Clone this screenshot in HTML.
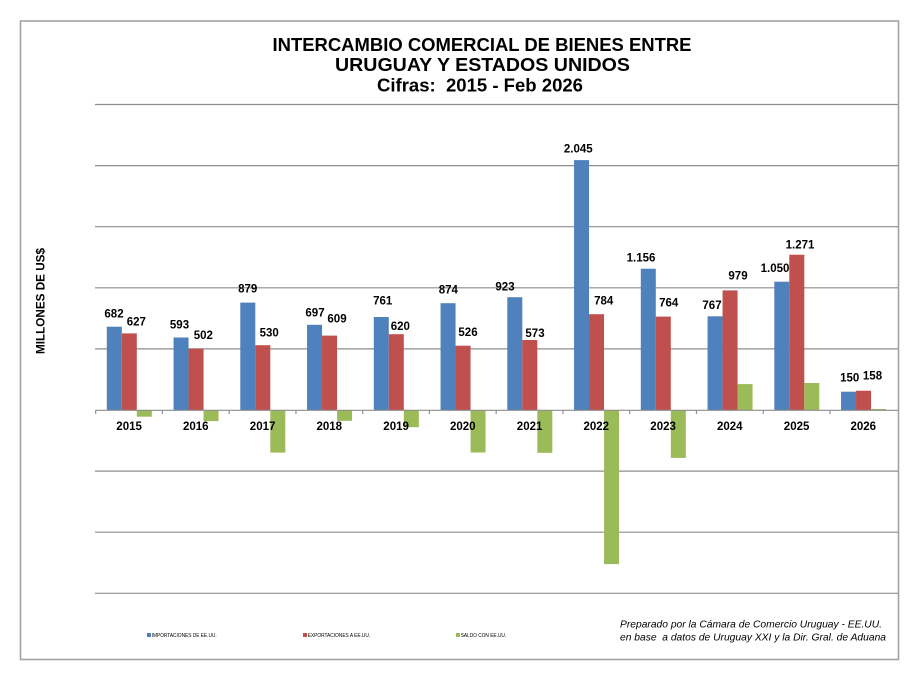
<!DOCTYPE html>
<html>
<head>
<meta charset="utf-8">
<style>
  html,body{margin:0;padding:0;background:#fff;}
  body{width:919px;height:677px;overflow:hidden;}
  svg{display:block;}
  .t{font-family:"Liberation Sans",Arial,sans-serif;font-weight:bold;fill:#000;}
  .dl{font-family:"Liberation Sans",Arial,sans-serif;font-weight:bold;font-size:11.5px;fill:#000;text-anchor:middle;}
  .cr{font-family:"Liberation Sans",Arial,sans-serif;font-style:italic;font-size:10px;fill:#000;}
  .lg{font-family:"Liberation Sans",Arial,sans-serif;font-size:5.5px;fill:#000;}
</style>
</head>
<body>
<svg width="919" height="677" viewBox="0 0 919 677" xmlns="http://www.w3.org/2000/svg">
  <rect x="0" y="0" width="919" height="677" fill="#fff"/>
  <!-- chart border -->
  <rect x="20.5" y="21" width="878" height="638.5" fill="#fff" stroke="#a3a3a3" stroke-width="1.6"/>

  <!-- Title -->
  <text class="t" x="482" y="51" font-size="18" text-anchor="middle" textLength="419" lengthAdjust="spacingAndGlyphs">INTERCAMBIO COMERCIAL DE BIENES ENTRE</text>
  <text class="t" x="482.5" y="71" font-size="18" text-anchor="middle" textLength="295" lengthAdjust="spacingAndGlyphs">URUGUAY Y ESTADOS UNIDOS</text>
  <text class="t" x="480" y="91.7" font-size="18" text-anchor="middle" textLength="206" lengthAdjust="spacingAndGlyphs" xml:space="preserve">Cifras:  2015 - Feb 2026</text>

  <!-- gridlines -->
  <g stroke="#8e8e8e" stroke-width="1.2">
    <line x1="95" y1="104.5" x2="898" y2="104.5"/>
    <line x1="95" y1="165.6" x2="898" y2="165.6"/>
    <line x1="95" y1="226.7" x2="898" y2="226.7"/>
    <line x1="95" y1="287.8" x2="898" y2="287.8"/>
    <line x1="95" y1="348.9" x2="898" y2="348.9"/>
    <line x1="95" y1="471.1" x2="898" y2="471.1"/>
    <line x1="95" y1="532.2" x2="898" y2="532.2"/>
    <line x1="95" y1="593.3" x2="898" y2="593.3"/>
  </g>

  <!-- Y axis title -->
  <text class="t" font-size="11.5" text-anchor="middle" transform="translate(44.5,301) rotate(-90)" textLength="106" lengthAdjust="spacingAndGlyphs">MILLONES DE US$</text>

  <!-- Imports (blue) -->
  <g fill="#4f81bd">
    <rect x="106.8" y="326.7" width="15" height="83.3"/>
    <rect x="173.55" y="337.5" width="15" height="72.5"/>
    <rect x="240.3" y="302.6" width="15" height="107.4"/>
    <rect x="307.05" y="324.8" width="15" height="85.2"/>
    <rect x="373.8" y="317.0" width="15" height="93.0"/>
    <rect x="440.55" y="303.2" width="15" height="106.8"/>
    <rect x="507.3" y="297.2" width="15" height="112.8"/>
    <rect x="574.05" y="160.1" width="15" height="249.9"/>
    <rect x="640.8" y="268.7" width="15" height="141.3"/>
    <rect x="707.55" y="316.3" width="15" height="93.7"/>
    <rect x="774.3" y="281.7" width="15" height="128.3"/>
    <rect x="841.05" y="391.7" width="15" height="18.3"/>
  </g>
  <!-- Exports (red) -->
  <g fill="#c0504d">
    <rect x="121.8" y="333.4" width="15" height="76.6"/>
    <rect x="188.55" y="348.7" width="15" height="61.3"/>
    <rect x="255.3" y="345.2" width="15" height="64.8"/>
    <rect x="322.05" y="335.6" width="15" height="74.4"/>
    <rect x="388.8" y="334.2" width="15" height="75.8"/>
    <rect x="455.55" y="345.7" width="15" height="64.3"/>
    <rect x="522.3" y="340.0" width="15" height="70.0"/>
    <rect x="589.05" y="314.2" width="15" height="95.8"/>
    <rect x="655.8" y="316.6" width="15" height="93.4"/>
    <rect x="722.55" y="290.4" width="15" height="119.6"/>
    <rect x="789.3" y="254.7" width="15" height="155.3"/>
    <rect x="856.05" y="390.7" width="15" height="19.3"/>
  </g>
  <!-- Saldo (green) -->
  <g fill="#9bbb59">
    <rect x="136.8" y="410" width="15" height="6.7"/>
    <rect x="203.55" y="410" width="15" height="11.1"/>
    <rect x="270.3" y="410" width="15" height="42.6"/>
    <rect x="337.05" y="410" width="15" height="10.8"/>
    <rect x="403.8" y="410" width="15" height="17.2"/>
    <rect x="470.55" y="410" width="15" height="42.5"/>
    <rect x="537.3" y="410" width="15" height="42.8"/>
    <rect x="604.05" y="410" width="15" height="154.1"/>
    <rect x="670.8" y="410" width="15" height="47.9"/>
    <rect x="737.55" y="384.1" width="15" height="25.9"/>
    <rect x="804.3" y="383.0" width="15" height="27.0"/>
    <rect x="871.05" y="409.0" width="15" height="1.0"/>
  </g>

  <!-- zero axis and ticks -->
  <g stroke="#8e8e8e" stroke-width="1.2">
    <line x1="95.2" y1="410.3" x2="898" y2="410.3"/>
    <line x1="95.7" y1="410" x2="95.7" y2="414"/>
    <line x1="162.45" y1="410" x2="162.45" y2="414"/>
    <line x1="229.2" y1="410" x2="229.2" y2="414"/>
    <line x1="295.95" y1="410" x2="295.95" y2="414"/>
    <line x1="362.7" y1="410" x2="362.7" y2="414"/>
    <line x1="429.45" y1="410" x2="429.45" y2="414"/>
    <line x1="496.2" y1="410" x2="496.2" y2="414"/>
    <line x1="562.95" y1="410" x2="562.95" y2="414"/>
    <line x1="629.7" y1="410" x2="629.7" y2="414"/>
    <line x1="696.45" y1="410" x2="696.45" y2="414"/>
    <line x1="763.2" y1="410" x2="763.2" y2="414"/>
    <line x1="829.95" y1="410" x2="829.95" y2="414"/>
  </g>

  <!-- data labels -->
  <text class="dl" x="114" y="317.3">682</text>
  <text class="dl" x="136.3" y="325.3">627</text>
  <text class="dl" x="179.5" y="328.3">593</text>
  <text class="dl" x="203.3" y="339">502</text>
  <text class="dl" x="247.7" y="292.7">879</text>
  <text class="dl" x="269.2" y="336.3">530</text>
  <text class="dl" x="315" y="316.7">697</text>
  <text class="dl" x="337" y="322.3">609</text>
  <text class="dl" x="382.7" y="304.3">761</text>
  <text class="dl" x="400.3" y="330">620</text>
  <text class="dl" x="448.3" y="293.7">874</text>
  <text class="dl" x="468" y="336">526</text>
  <text class="dl" x="505" y="290.7">923</text>
  <text class="dl" x="535" y="337">573</text>
  <text class="dl" x="578.3" y="152.7">2.045</text>
  <text class="dl" x="603.7" y="304.3">784</text>
  <text class="dl" x="641" y="261.7">1.156</text>
  <text class="dl" x="668.7" y="306.7">764</text>
  <text class="dl" x="712" y="309">767</text>
  <text class="dl" x="738" y="279.3">979</text>
  <text class="dl" x="775" y="272">1.050</text>
  <text class="dl" x="800" y="248.3">1.271</text>
  <text class="dl" x="849.7" y="381.7">150</text>
  <text class="dl" x="872.5" y="379.3">158</text>

  <!-- year labels -->
  <text class="dl" x="129.1" y="430">2015</text>
  <text class="dl" x="195.8" y="430">2016</text>
  <text class="dl" x="262.6" y="430">2017</text>
  <text class="dl" x="329.3" y="430">2018</text>
  <text class="dl" x="396.1" y="430">2019</text>
  <text class="dl" x="462.8" y="430">2020</text>
  <text class="dl" x="529.6" y="430">2021</text>
  <text class="dl" x="596.3" y="430">2022</text>
  <text class="dl" x="663.1" y="430">2023</text>
  <text class="dl" x="729.8" y="430">2024</text>
  <text class="dl" x="796.6" y="430">2025</text>
  <text class="dl" x="863.3" y="430">2026</text>

  <!-- legend -->
  <rect x="147" y="633" width="4" height="4" fill="#4f81bd"/>
  <text class="lg" x="151.7" y="637" textLength="65" lengthAdjust="spacingAndGlyphs">IMPORTACIONES DE EE.UU.</text>
  <rect x="303" y="633" width="4" height="4" fill="#c0504d"/>
  <text class="lg" x="307.7" y="637" textLength="62.5" lengthAdjust="spacingAndGlyphs">EXPORTACIONES A EE.UU.</text>
  <rect x="456" y="633" width="4" height="4" fill="#9bbb59"/>
  <text class="lg" x="460.7" y="637" textLength="45.5" lengthAdjust="spacingAndGlyphs">SALDO CON EE.UU.</text>

  <!-- credits -->
  <text class="cr" x="620" y="627.5" textLength="262" lengthAdjust="spacingAndGlyphs">Preparado por la Cámara de Comercio Uruguay - EE.UU.</text>
  <text class="cr" x="620" y="640.5" textLength="266" lengthAdjust="spacingAndGlyphs" xml:space="preserve">en base  a datos de Uruguay XXI y la Dir. Gral. de Aduana</text>
</svg>
</body>
</html>
